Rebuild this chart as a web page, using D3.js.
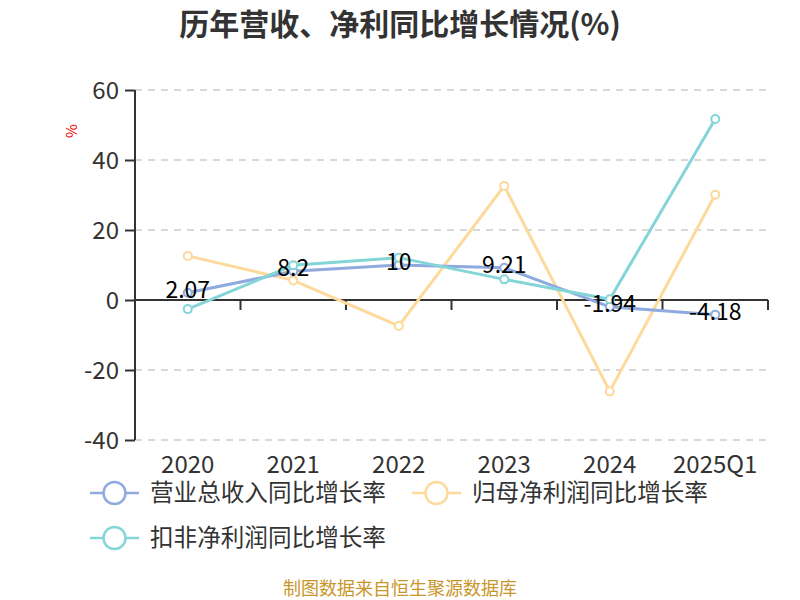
<!DOCTYPE html>
<html><head><meta charset="utf-8">
<script src="https://cdn.jsdelivr.net/npm/d3@7"></script>
<style>body{margin:0;background:#fff}text{font-family:"Microsoft YaHei","Noto Sans CJK SC",sans-serif}</style>
</head><body><svg id="c" width="800" height="600"></svg>
<script>
const categories = ["2020","2021","2022","2023","2024","2025Q1"];
const revenue = [2.07, 8.2, 10, 9.21, -1.94, -4.18];
const netProfit = [12.6, 5.6, -7.4, 32.6, -26.1, 30.1];
const deducted = [-2.6, 9.9, 12.1, 5.9, 0.2, 51.7];
const seriesNames = ["营业总收入同比增长率","归母净利润同比增长率","扣非净利润同比增长率"];
const colors = ["#8eaadf","#fdd99b","#84d5d8"];
const yTicks = [-40,-20,0,20,40,60];

const FF = "'Microsoft YaHei','Noto Sans CJK SC',sans-serif";
const svg = d3.select("#c");
const x = d3.scaleBand().domain(categories).range([135,768]);
const y = d3.scaleLinear().domain([-40,60]).range([440,90]);

svg.append("text").attr("x",400).attr("y",35).attr("text-anchor","middle")
  .attr("font-size",30).attr("font-weight","bold").attr("fill","#333").text("历年营收、净利同比增长情况(%)");

// grid
svg.append("g").selectAll("line").data(yTicks.filter(d=>d!==0)).join("line")
  .attr("x1",135).attr("x2",768).attr("y1",d=>y(d)).attr("y2",d=>y(d))
  .attr("stroke","#ccc").attr("stroke-width",1.5).attr("stroke-dasharray","7,6");

// y axis
const ya = svg.append("g").attr("transform","translate(135,0)")
  .call(d3.axisLeft(y).tickValues(yTicks).tickSize(10).tickPadding(6).tickFormat(d=>String(d)));
ya.select(".domain").attr("stroke","#333").attr("stroke-width",2).attr("d","M0,90V440");
ya.selectAll(".tick line").attr("stroke","#333").attr("stroke-width",2);
ya.selectAll(".tick text").attr("font-size",24).attr("fill","#333").attr("font-family",FF).attr("dy","0.35em");

svg.append("text").attr("transform","translate(77,131) rotate(-90)").attr("text-anchor","middle")
  .attr("font-size",15).attr("fill","#e00").text("%");

// x axis at zero
const xa = svg.append("g").attr("transform",`translate(0,${y(0)})`)
  .call(d3.axisBottom(x).tickSize(10).tickFormat(""));
xa.select(".domain").attr("stroke","#333").attr("stroke-width",2).attr("d","M135,0H768");
xa.selectAll(".tick line").attr("stroke","#333").attr("stroke-width",2).attr("transform",`translate(${x.bandwidth()/2},0)`);
svg.append("g").selectAll("text").data(categories).join("text")
  .attr("x",d=>x(d)+x.bandwidth()/2).attr("y",473).attr("text-anchor","middle")
  .attr("font-size",24).attr("fill","#333").text(d=>d);

const all = [revenue, netProfit, deducted];
const line = d3.line().x((d,i)=>x(categories[i])+x.bandwidth()/2).y(d=>y(d));
[1,0,2].forEach(k=>{
  const g = svg.append("g");
  g.append("path").attr("d",line(all[k])).attr("fill","none").attr("stroke",colors[k]).attr("stroke-width",3);
  g.selectAll("circle").data(all[k]).join("circle")
    .attr("cx",(d,i)=>x(categories[i])+x.bandwidth()/2).attr("cy",d=>y(d)).attr("r",4)
    .attr("fill","#fff").attr("stroke",colors[k]).attr("stroke-width",2);
});

// labels on revenue
svg.append("g").selectAll("text").data(revenue).join("text")
  .attr("x",(d,i)=>x(categories[i])+x.bandwidth()/2).attr("y",d=>y(d)+5)
  .attr("text-anchor","middle").attr("font-size",23).attr("fill","#000").text(d=>d);

// legend
const legendPos = [[90,493],[412,493],[90,538]];
seriesNames.forEach((n,k)=>{
  const [lx,ly] = legendPos[k];
  const g = svg.append("g");
  g.append("line").attr("x1",lx).attr("x2",lx+49).attr("y1",ly).attr("y2",ly).attr("stroke",colors[k]).attr("stroke-width",2.5);
  g.append("circle").attr("cx",lx+24.5).attr("cy",ly).attr("r",11).attr("fill","#fff").attr("stroke",colors[k]).attr("stroke-width",2.5);
  g.append("text").attr("x",lx+60).attr("y",ly+8).attr("font-size",23.6).attr("fill","#333").text(n);
});

svg.append("text").attr("x",400).attr("y",595).attr("text-anchor","middle")
  .attr("font-size",18).attr("fill","#c9962a").text("制图数据来自恒生聚源数据库");
</script></body></html>
